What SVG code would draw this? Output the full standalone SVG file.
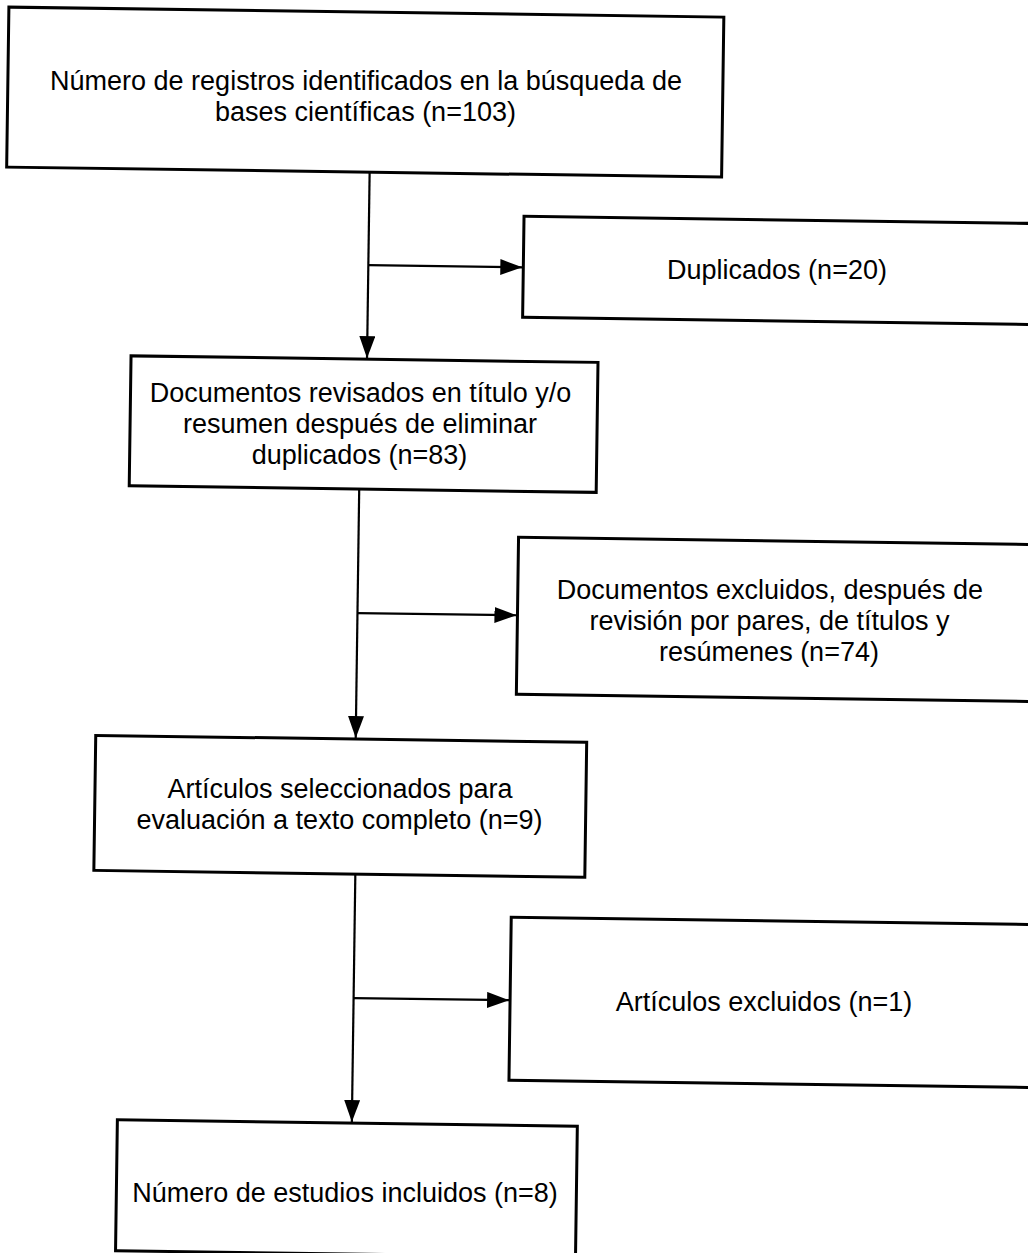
<svg xmlns="http://www.w3.org/2000/svg" width="1028" height="1253" viewBox="0 0 1028 1253">
  <style>
    .box { fill: #ffffff; stroke: #000000; stroke-width: 3; }
    .lbl { font-family: "Liberation Sans", Arial, sans-serif; font-size: 27px; fill: #000000; text-anchor: middle; }
    .conn { fill: none; stroke: #000000; stroke-width: 2.2; }
  </style>
  <defs>
    <marker id="arrow" markerUnits="userSpaceOnUse" markerWidth="24" markerHeight="18" refX="22" refY="8" orient="auto">
      <path d="M0,0 L22,8 L0,16 Z" fill="#000000"/>
    </marker>
  </defs>
  <rect x="0" y="0" width="1028" height="1253" fill="#ffffff"/>
  <g id="node-identificados">
    <rect class="box" x="9" y="7" width="715" height="160" transform="rotate(0.8)"/>
    <text class="lbl" x="366" y="90">Número de registros identificados en la búsqueda de</text>
    <text class="lbl" x="365.5" y="121">bases científicas (n=103)</text>
  </g>
  <g id="node-duplicados">
    <rect class="box" x="527" y="209" width="540" height="101" transform="rotate(0.8)"/>
    <text class="lbl" x="777" y="279">Duplicados (n=20)</text>
  </g>
  <g id="node-revisados">
    <rect class="box" x="136" y="354" width="467" height="130" transform="rotate(0.8)"/>
    <text class="lbl" x="360.5" y="402">Documentos revisados en título y/o</text>
    <text class="lbl" x="360" y="433">resumen después de eliminar</text>
    <text class="lbl" x="359.5" y="464">duplicados (n=83)</text>
  </g>
  <g id="node-excluidos-titulos">
    <rect class="box" x="526" y="530" width="540" height="157" transform="rotate(0.8)"/>
    <text class="lbl" x="770" y="599">Documentos excluidos, después de</text>
    <text class="lbl" x="769.5" y="630">revisión por pares, de títulos y</text>
    <text class="lbl" x="769" y="661">resúmenes (n=74)</text>
  </g>
  <g id="node-seleccionados">
    <rect class="box" x="106" y="734" width="491" height="135" transform="rotate(0.8)"/>
    <text class="lbl" x="340" y="798">Artículos seleccionados para</text>
    <text class="lbl" x="339.5" y="829">evaluación a texto completo (n=9)</text>
  </g>
  <g id="node-articulos-excluidos">
    <rect class="box" x="524" y="910" width="540" height="163" transform="rotate(0.8)"/>
    <text class="lbl" x="764" y="1011">Artículos excluidos (n=1)</text>
  </g>
  <g id="node-incluidos">
    <rect class="box" x="133" y="1118" width="460" height="131" transform="rotate(0.8)"/>
    <text class="lbl" x="345" y="1202">Número de estudios incluidos (n=8)</text>
  </g>
  <g id="connectors" transform="rotate(0.8)">
    <line class="conn" x1="372" y1="167" x2="372" y2="353" marker-end="url(#arrow)"/>
    <line class="conn" x1="372" y1="260" x2="526" y2="260" marker-end="url(#arrow)"/>
    <line class="conn" x1="366" y1="484" x2="366" y2="733" marker-end="url(#arrow)"/>
    <line class="conn" x1="366" y1="608" x2="525" y2="608" marker-end="url(#arrow)"/>
    <line class="conn" x1="367.5" y1="869" x2="367.5" y2="1117" marker-end="url(#arrow)"/>
    <line class="conn" x1="367.5" y1="993" x2="523" y2="993" marker-end="url(#arrow)"/>
  </g>
</svg>
